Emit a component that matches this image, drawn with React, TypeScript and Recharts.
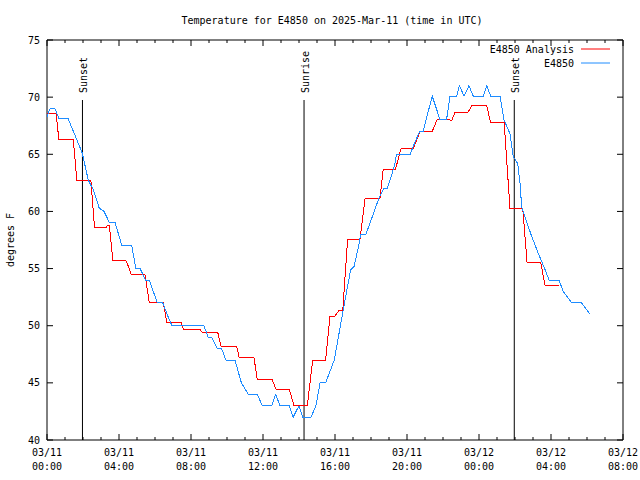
import {
  LineChart,
  Line,
  XAxis,
  YAxis,
  ReferenceLine,
  ReferenceArea,
} from "recharts";

const FONT = "'DejaVu Sans Mono', 'Liberation Mono', monospace";

// layout of the gnuplot-like frame
const WIDTH = 640;
const HEIGHT = 480;
const PLOT_LEFT = 47;
const PLOT_RIGHT = 623;
const PLOT_TOP = 40;
const PLOT_BOTTOM = 440;

const TITLE = "Temperature for E4850 on 2025-Mar-11 (time in UTC)";
const Y_LABEL = "degrees F";

// x is hours since 03/11 00:00 UTC
const X_MIN = 0;
const X_MAX = 32;
const X_TICK_DATES = ["03/11", "03/11", "03/11", "03/11", "03/11", "03/11", "03/12", "03/12", "03/12"];
const X_TICK_TIMES = ["00:00", "04:00", "08:00", "12:00", "16:00", "20:00", "00:00", "04:00", "08:00"];
const HOUR_TICKS = Array.from({ length: X_MAX - X_MIN + 1 }, (_, i) => X_MIN + i);

const Y_MIN = 40;
const Y_MAX = 75;
const Y_TICKS = [40, 45, 50, 55, 60, 65, 70, 75];

const SERIES_NAMES = ["E4850 Analysis", "E4850"];
const SERIES_COLORS = ["#ff0000", "#1e8cff"];

// sun events: hour, label
const SUN_HOURS = [1.97, 14.28, 25.96];
const SUN_LABELS = ["Sunset", "Sunrise", "Sunset"];

// E4850 Analysis (hourly analysis, stepped)
const ANALYSIS_T = [
  0.0, 0.5, 0.66, 1.46, 1.66, 2.44, 2.64, 3.3, 3.36, 3.46, 3.66, 4.38, 4.45, 4.67,
  5.44, 5.68, 6.46, 6.65, 7.45, 7.58, 8.5, 8.6, 9.48, 9.67, 10.54, 10.68, 11.5,
  11.68, 12.5, 12.72, 13.46, 13.72, 14.46, 14.76, 15.48, 15.72, 16.0, 16.2, 16.43,
  16.7, 17.39, 17.67, 18.5, 18.68, 19.36, 19.67, 20.35, 20.72, 21.4, 21.68, 22.3,
  22.48, 22.67, 23.4, 23.6, 24.43, 24.65, 25.4, 25.72, 26.43, 26.67, 27.43, 27.67,
  28.44,
];
const ANALYSIS_V = [
  68.6, 68.6, 66.3, 66.3, 62.7, 62.7, 58.6, 58.6, 58.8, 58.8, 55.7, 55.7, 55.5, 54.5,
  54.5, 52.05, 52.05, 50.3, 50.3, 49.7, 49.7, 49.45, 49.45, 48.2, 48.2, 47.2, 47.2,
  45.3, 45.3, 44.45, 44.45, 43.0, 43.0, 47.0, 47.0, 50.85, 50.85, 51.3, 51.3,
  57.55, 57.55, 61.15, 61.15, 63.7, 63.7, 65.5, 65.5, 67.0, 67.0, 68.05, 68.05,
  67.95, 68.7, 68.7, 69.25, 69.25, 67.75, 67.75, 60.27, 60.27, 55.55, 55.55, 53.5,
  53.5,
];

// E4850 observations
const OBS_T = [
  0.0, 0.17, 0.44, 0.67, 1.18, 1.96, 2.29, 2.57, 2.9, 3.17, 3.46, 3.78, 4.15, 4.7,
  4.94, 5.17, 5.48, 5.68, 6.13, 6.43, 6.8, 6.95, 8.72, 8.95, 9.15, 9.45, 9.7, 9.94,
  10.44, 10.8, 11.18, 11.68, 11.96, 12.48, 12.71, 12.94, 13.46, 13.68, 14.0, 14.2,
  14.67, 14.94, 15.17, 15.48, 15.96, 16.46, 16.87, 17.06, 17.3, 17.43, 17.72, 18.44,
  18.72, 18.9, 19.15, 19.33, 19.42, 20.17, 20.35, 20.7, 20.9, 21.4, 21.83, 22.2,
  22.39, 22.76, 22.91, 23.17, 23.44, 23.68, 24.24, 24.43, 24.65, 25.17, 25.39, 25.72,
  25.9, 26.15, 26.28, 26.37, 26.56, 26.93, 27.3, 27.67, 27.89, 28.44, 28.68, 29.15,
  29.7, 30.17,
];
const OBS_V = [
  68.3, 69.0, 69.0, 68.1, 68.1, 65.1, 62.75, 61.9, 60.3, 60.0, 59.05, 59.05, 57.06,
  57.06, 55.0, 55.0, 54.0, 54.0, 52.0, 52.0, 50.5, 50.0, 50.0, 49.0, 49.0, 48.0, 48.0,
  47.0, 47.0, 45.0, 44.0, 44.0, 43.0, 43.0, 44.0, 43.0, 43.0, 42.0, 43.0, 42.0, 42.0,
  43.0, 45.0, 45.0, 47.0, 51.4, 54.9, 55.2, 56.9, 58.0, 58.0, 61.15, 62.0, 62.0, 63.2,
  64.2, 65.0, 65.0, 65.7, 67.0, 67.0, 70.1, 68.05, 68.05, 70.1, 70.1, 71.0, 70.1,
  71.0, 70.1, 70.1, 71.0, 70.1, 70.1, 68.0, 66.8, 64.8, 64.2, 62.46, 60.4, 59.5, 57.8,
  56.3, 54.9, 54.0, 54.0, 53.0, 52.0, 52.0, 51.0,
];

const analysisData = ANALYSIS_T.map((t, i) => ({ t, v: ANALYSIS_V[i] }));
const obsData = OBS_T.map((t, i) => ({ t, v: OBS_V[i] }));

interface TickProps {
  x?: number;
  y?: number;
  payload?: { value: number };
}

function XTick({ x = 0, y = 0, payload }: TickProps) {
  const h = payload ? payload.value : 0;
  const major = h % 4 === 0;
  const len = major ? 6 : 3;
  const idx = h / 4;
  return (
    <g>
      <line x1={x} x2={x} y1={y} y2={y - len} stroke="#000" />
      <line x1={x} x2={x} y1={PLOT_TOP} y2={PLOT_TOP + len} stroke="#000" />
      {major && (
        <text x={x} textAnchor="middle" fontFamily={FONT} fontSize={10} fill="#000">
          <tspan x={x} y={y + 16}>{X_TICK_DATES[idx]}</tspan>
          <tspan x={x} y={y + 30}>{X_TICK_TIMES[idx]}</tspan>
        </text>
      )}
    </g>
  );
}

function YTick({ x = 0, y = 0, payload }: TickProps) {
  return (
    <g>
      <line x1={x} x2={x + 6} y1={y} y2={y} stroke="#000" />
      <line x1={PLOT_RIGHT} x2={PLOT_RIGHT - 6} y1={y} y2={y} stroke="#000" />
      <text
        x={x - 7}
        y={y}
        textAnchor="end"
        dominantBaseline="central"
        fontFamily={FONT}
        fontSize={10}
        fill="#000"
      >
        {payload ? payload.value : ""}
      </text>
    </g>
  );
}

function sunLabel(text: string) {
  return (props: any) => {
    const vb = props.viewBox || {};
    const x = (vb.x ?? 0) + 1;
    const y = (vb.y ?? 0) - 7;
    return (
      <text
        x={x}
        y={y}
        transform={`rotate(-90, ${x}, ${y})`}
        textAnchor="start"
        dominantBaseline="central"
        fontFamily={FONT}
        fontSize={10}
        fill="#000"
      >
        {text}
      </text>
    );
  };
}

export default function App() {
  const lineTop = Y_MIN + 0.85 * (Y_MAX - Y_MIN);
  return (
    <div
      style={{
        position: "absolute",
        left: 0,
        top: 0,
        width: WIDTH,
        height: HEIGHT,
        background: "#fff",
      }}
    >
      <LineChart
        width={WIDTH}
        height={HEIGHT}
        margin={{ top: PLOT_TOP, right: WIDTH - PLOT_RIGHT, bottom: 0, left: 0 }}
      >
        <XAxis
          dataKey="t"
          type="number"
          domain={[X_MIN, X_MAX]}
          ticks={HOUR_TICKS}
          interval={0}
          height={HEIGHT - PLOT_BOTTOM}
          axisLine={false}
          tickLine={false}
          tickSize={0}
          tickMargin={0}
          tick={<XTick />}
          allowDataOverflow
        />
        <YAxis
          type="number"
          domain={[Y_MIN, Y_MAX]}
          ticks={Y_TICKS}
          interval={0}
          width={PLOT_LEFT}
          axisLine={false}
          tickLine={false}
          tickSize={0}
          tickMargin={0}
          tick={<YTick />}
          allowDataOverflow
        />
        {SUN_HOURS.map((t, i) => (
          <ReferenceLine
            key={`sun-${i}`}
            segment={[
              { x: t, y: Y_MIN },
              { x: t, y: lineTop },
            ]}
            stroke="#000"
            strokeWidth={1}
            label={sunLabel(SUN_LABELS[i])}
          />
        ))}
        <Line
          data={analysisData}
          dataKey="v"
          name={SERIES_NAMES[0]}
          type="linear"
          stroke={SERIES_COLORS[0]}
          strokeWidth={1}
          dot={false}
          activeDot={false}
          isAnimationActive={false}
          shapeRendering="crispEdges"
        />
        <Line
          data={obsData}
          dataKey="v"
          name={SERIES_NAMES[1]}
          type="linear"
          stroke={SERIES_COLORS[1]}
          strokeWidth={1}
          dot={false}
          activeDot={false}
          isAnimationActive={false}
          shapeRendering="crispEdges"
        />
        <ReferenceArea
          x1={X_MIN}
          x2={X_MAX}
          y1={Y_MIN}
          y2={Y_MAX}
          fill="none"
          fillOpacity={0}
          stroke="#000"
          strokeWidth={1}
          ifOverflow="visible"
        />
      </LineChart>
      <svg
        width={WIDTH}
        height={HEIGHT}
        style={{ position: "absolute", left: 0, top: 0, pointerEvents: "none" }}
      >
        <text
          x={332}
          y={20}
          textAnchor="middle"
          dominantBaseline="central"
          fontFamily={FONT}
          fontSize={10}
          fill="#000"
        >
          {TITLE}
        </text>
        <text
          x={10}
          y={240}
          transform="rotate(-90, 10, 240)"
          textAnchor="middle"
          dominantBaseline="central"
          fontFamily={FONT}
          fontSize={10}
          fill="#000"
        >
          {Y_LABEL}
        </text>
        {SERIES_NAMES.map((name, i) => (
          <g key={name}>
            <text
              x={574}
              y={49 + i * 14}
              textAnchor="end"
              dominantBaseline="central"
              fontFamily={FONT}
              fontSize={10}
              fill="#000"
            >
              {name}
            </text>
            <line
              x1={581}
              x2={610}
              y1={49 + i * 14}
              y2={49 + i * 14}
              stroke={SERIES_COLORS[i]}
              strokeWidth={1}
            />
          </g>
        ))}
      </svg>
    </div>
  );
}
